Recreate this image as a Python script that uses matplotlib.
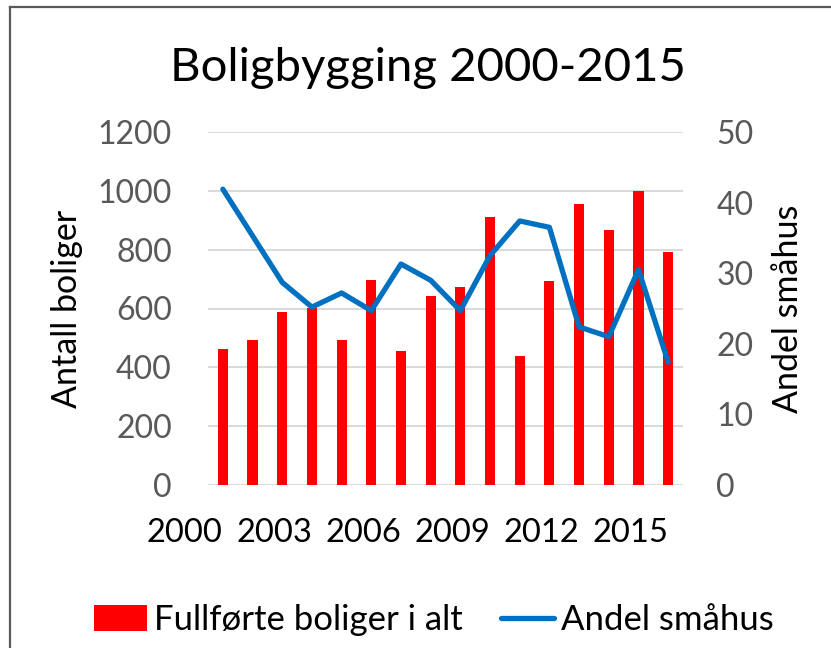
import matplotlib.pyplot as plt
import numpy as np

# Boligbygging 2000-2015
years = list(range(2000, 2016))
boliger = [462, 493, 588, 602, 492, 696, 456, 643, 673, 911, 437, 692, 954, 866, 1000, 792]
andel = [41.9, 35.3, 28.7, 25.2, 27.2, 24.7, 31.3, 29.0, 24.7, 32.5, 37.4, 36.5, 22.4, 21.0, 30.5, 17.4]

yticks_left = [0, 200, 400, 600, 800, 1000, 1200]
yticks_right = [0, 10, 20, 30, 40, 50]
xlabel_every = 3

plt.rcParams["font.family"] = ["Lato", "DejaVu Sans"]

W, H = 831, 648
fig = plt.figure(figsize=(W / 100, H / 100), dpi=100)

ax = fig.add_axes([208 / W, 1 - 485 / H, (683 - 208) / W, (485 - 132) / H])
ax2 = ax.twinx()

x = np.arange(len(years))
bars = ax.bar(x, boliger, width=0.34, color="#FF0000", label="Fullførte boliger i alt", zorder=2)
(line,) = ax2.plot(x, andel, color="#0070C0", lw=3.8, solid_joinstyle="round",
                   solid_capstyle="round", label="Andel småhus")

ax.set_xlim(-0.5, len(years) - 0.5)
ax.set_ylim(0, 1200)
ax2.set_ylim(0, 50)
ax.set_yticks(yticks_left)
ax2.set_yticks(yticks_right)

ax.set_axisbelow(True)
ax.grid(axis="y", color="#D9D9D9", lw=1.4)
for a in (ax, ax2):
    for s in a.spines.values():
        s.set_visible(False)

ax.tick_params(axis="y", length=0, pad=26, labelsize=23, labelcolor="#595959")
ax2.tick_params(axis="y", length=0, pad=24, labelsize=23, labelcolor="#595959")

xt = x[::xlabel_every]
ax.set_xticks(xt)
ax.set_xticklabels([str(years[i]) for i in xt], ha="right")
ax.tick_params(axis="x", length=0, pad=24, labelsize=23.5, labelcolor="black")

fig.text(67 / W, 1 - 309 / H, "Antall boliger", rotation=90, ha="center", va="center", fontsize=24.5)
fig.text(788 / W, 1 - 309 / H, "Andel småhus", rotation=90, ha="center", va="center", fontsize=24.5)

fig.text(428 / W, 1 - 81 / H, "Boligbygging 2000-2015", ha="center", va="baseline", fontsize=34)

fig.legend([bars, line], ["Fullførte boliger i alt", "Andel småhus"], loc="center",
           bbox_to_anchor=(434 / W, 1 - 620 / H), ncol=2, frameon=False, fontsize=25,
           handlelength=1.53, handleheight=0.75, handletextpad=0.2, columnspacing=1.1)

# ramme rundt diagrammet (venstre og topp)
fig.add_artist(plt.Line2D([10 / W, 10 / W], [0, 1 - 7 / H], color="#5A5A5A", lw=1.6))
fig.add_artist(plt.Line2D([10 / W, 1], [1 - 7 / H, 1 - 7 / H], color="#5A5A5A", lw=1.6))

fig.savefig("out.png", dpi=100)
